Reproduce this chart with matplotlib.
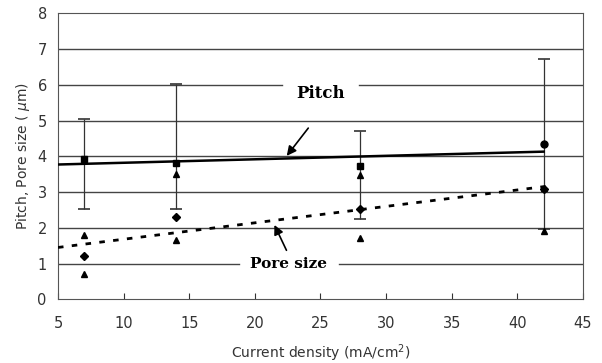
import numpy as np
import matplotlib.pyplot as plt

# current density (mA/cm2)
cd = [7, 14, 28, 42]

# pitch: mean and error bar ends
pitch = [3.92, 3.80, 3.73, 4.34]
pitch_hi = [5.03, 6.03, 4.70, 6.71]
pitch_lo = [2.53, 2.53, 2.24, 1.97]

# pore size: mean, max, min
pore = [1.20, 2.30, 2.52, 3.09]
pore_max = [1.80, 3.50, 3.48, 3.12]
pore_min = [0.70, 1.65, 1.71, 1.91]

# trend lines
trend_x = [5, 42]
pitch_trend = [3.77, 4.13]
pore_trend = [1.45, 3.15]

fig = plt.figure(figsize=(6.02, 3.63), dpi=100)
ax = fig.add_axes([0.0963, 0.1755, 0.8721, 0.7879])

# gridlines (with gaps behind the labels)
for y in range(1, 8):
    if y == 6:
        ax.plot([5, 22.1], [y, y], color='#444444', lw=1.0, zorder=1)
        ax.plot([27.9, 45], [y, y], color='#444444', lw=1.0, zorder=1)
    elif y == 1:
        ax.plot([5, 18.8], [y, y], color='#444444', lw=1.0, zorder=1)
        ax.plot([26.4, 45], [y, y], color='#444444', lw=1.0, zorder=1)
    else:
        ax.axhline(y, color='#444444', lw=1.0, zorder=1)

# error bars for pitch
yerr = [np.array(pitch) - np.array(pitch_lo), np.array(pitch_hi) - np.array(pitch)]
ax.errorbar(cd, pitch, yerr=yerr, fmt='none', ecolor='#333333', elinewidth=0.9,
            capsize=4, capthick=1.2, zorder=2)
ax.plot(cd[:3], pitch[:3], 's', color='black', ms=4.5, zorder=4)
ax.plot(cd[3:], pitch[3:], 'o', color='black', ms=5, zorder=4)

ax.plot(cd, pore, 'D', color='black', ms=4, zorder=4)
ax.plot(cd, pore_max, '^', color='black', ms=4.5, zorder=4)
ax.plot(cd, pore_min, '^', color='black', ms=4.5, zorder=4)

ax.plot(trend_x, pitch_trend, '-', color='black', lw=1.8, zorder=3)
ax.plot(trend_x, pore_trend, color='black', lw=2, ls=(0, (2, 3)), zorder=3)

ax.text(25, 5.75, 'Pitch', family='DejaVu Serif', fontweight='bold', fontsize=12,
        ha='center', va='center', zorder=5)
ax.annotate('', xy=(22.3, 3.95), xytext=(24.2, 4.85),
            arrowprops=dict(arrowstyle='-|>', color='black', lw=1.2, mutation_scale=14))
ax.text(22.6, 1, 'Pore size', family='DejaVu Serif', fontweight='bold', fontsize=11,
        ha='center', va='center', zorder=5)
ax.annotate('', xy=(21.4, 2.15), xytext=(22.5, 1.3),
            arrowprops=dict(arrowstyle='-|>', color='black', lw=1.2, mutation_scale=14))

ax.set_xlim(5, 45)
ax.set_ylim(0, 8)
ax.set_xticks(range(5, 46, 5))
ax.set_yticks(range(0, 9))
ax.tick_params(axis='x', direction='in', length=4, labelsize=10.5, colors='#333333', pad=12)
ax.tick_params(axis='y', length=0, labelsize=10.5, colors='#333333', pad=8)
for s in ax.spines.values():
    s.set_color('#555555')

ax.set_xlabel('Current density (mA/cm$^2$)', fontsize=10, color='#333333', labelpad=8)
ax.set_ylabel('Pitch, Pore size ( $\\mu$m)', fontsize=10, color='#333333')

fig.savefig('out.png', dpi=100)
